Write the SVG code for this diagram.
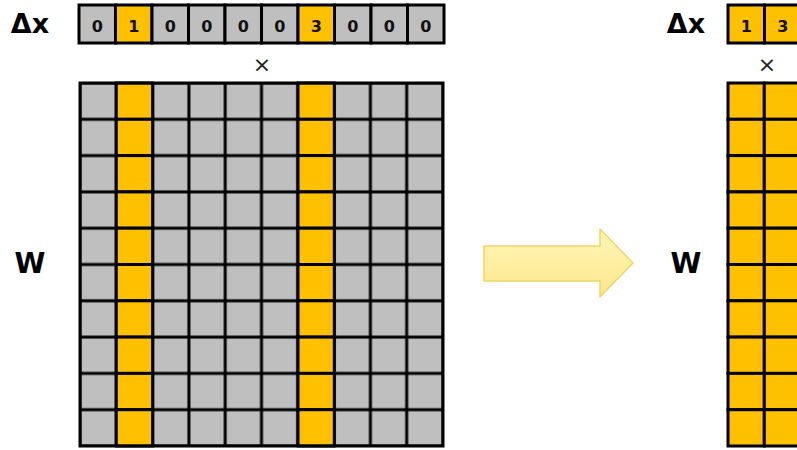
<svg xmlns="http://www.w3.org/2000/svg" width="797" height="450" viewBox="0 0 797 450">
<defs>
<style>
.g{fill:#bfbfbf;stroke:#000;stroke-width:3}
.o{fill:#ffc000;stroke:#000;stroke-width:3}
.d{font-family:"DejaVu Sans",Verdana,sans-serif;font-weight:bold;font-size:16px;text-anchor:middle;fill:#111}
.lbl{font-family:"DejaVu Sans",Verdana,sans-serif;font-weight:bold;text-anchor:middle;fill:#000}
.x{font-family:"DejaVu Sans",sans-serif;font-size:22px;text-anchor:middle;fill:#222}
</style>
<linearGradient id="ag" x1="0" y1="0" x2="0" y2="1">
<stop offset="0" stop-color="#fff6b8"/>
<stop offset="1" stop-color="#fde78a"/>
</linearGradient>
<pattern id="lgrid" x="80" y="83" width="36.3" height="36.3" patternUnits="userSpaceOnUse">
<rect width="36.3" height="36.3" fill="#bfbfbf" stroke="#000" stroke-width="3"/>
</pattern>
</defs>
<rect width="797" height="450" fill="#fff"/>

<g id="dx-left">
<text class="lbl" x="30" y="33" font-size="27">Δx</text>
<rect class="g" x="79" y="5" width="36.5" height="38"/>
<rect class="o" x="115.5" y="5" width="36.5" height="38"/>
<rect class="g" x="152" y="5" width="36.5" height="38"/>
<rect class="g" x="188.5" y="5" width="36.5" height="38"/>
<rect class="g" x="225" y="5" width="36.5" height="38"/>
<rect class="g" x="261.5" y="5" width="36.5" height="38"/>
<rect class="o" x="298" y="5" width="36.5" height="38"/>
<rect class="g" x="334.5" y="5" width="36.5" height="38"/>
<rect class="g" x="371" y="5" width="36.5" height="38"/>
<rect class="g" x="407.5" y="5" width="36.5" height="38"/>
<text class="d" x="97.25" y="31.5">0</text>
<text class="d" x="133.75" y="31.5">1</text>
<text class="d" x="170.25" y="31.5">0</text>
<text class="d" x="206.75" y="31.5">0</text>
<text class="d" x="243.25" y="31.5">0</text>
<text class="d" x="279.75" y="31.5">0</text>
<text class="d" x="316.25" y="31.5">3</text>
<text class="d" x="352.75" y="31.5">0</text>
<text class="d" x="389.25" y="31.5">0</text>
<text class="d" x="425.75" y="31.5">0</text>
</g>
<text class="x" x="262" y="72">×</text>

<g id="w-left">
<text class="lbl" x="30" y="273" font-size="28">W</text>
<rect x="80" y="83" width="363" height="363" fill="url(#lgrid)"/>
<rect class="o" x="116.3" y="83" width="36.3" height="36.3"/>
<rect class="o" x="116.3" y="119.3" width="36.3" height="36.3"/>
<rect class="o" x="116.3" y="155.6" width="36.3" height="36.3"/>
<rect class="o" x="116.3" y="191.9" width="36.3" height="36.3"/>
<rect class="o" x="116.3" y="228.2" width="36.3" height="36.3"/>
<rect class="o" x="116.3" y="264.5" width="36.3" height="36.3"/>
<rect class="o" x="116.3" y="300.8" width="36.3" height="36.3"/>
<rect class="o" x="116.3" y="337.1" width="36.3" height="36.3"/>
<rect class="o" x="116.3" y="373.4" width="36.3" height="36.3"/>
<rect class="o" x="116.3" y="409.7" width="36.3" height="36.3"/>
<rect class="o" x="298" y="83" width="36.3" height="36.3"/>
<rect class="o" x="298" y="119.3" width="36.3" height="36.3"/>
<rect class="o" x="298" y="155.6" width="36.3" height="36.3"/>
<rect class="o" x="298" y="191.9" width="36.3" height="36.3"/>
<rect class="o" x="298" y="228.2" width="36.3" height="36.3"/>
<rect class="o" x="298" y="264.5" width="36.3" height="36.3"/>
<rect class="o" x="298" y="300.8" width="36.3" height="36.3"/>
<rect class="o" x="298" y="337.1" width="36.3" height="36.3"/>
<rect class="o" x="298" y="373.4" width="36.3" height="36.3"/>
<rect class="o" x="298" y="409.7" width="36.3" height="36.3"/>
<rect x="80" y="83" width="363" height="363" fill="none" stroke="#000" stroke-width="3"/>
</g>

<g id="connectors">
<path d="M484,246 L600,246 L600,229 L633,263 L600,297 L600,281 L484,281 Z" fill="url(#ag)" stroke="#f2d46a" stroke-width="1.5" stroke-linejoin="round"/>
</g>

<g id="dx-right">
<text class="lbl" x="686" y="33" font-size="27">Δx</text>
<rect class="o" x="728" y="5" width="36.5" height="38"/>
<rect class="o" x="764.5" y="5" width="36.5" height="38"/>
<text class="d" x="746.25" y="31.5">1</text>
<text class="d" x="782.75" y="31.5">3</text>
</g>
<text class="x" x="767" y="72">×</text>

<g id="w-right">
<text class="lbl" x="686" y="273" font-size="28">W</text>
<rect class="o" x="728" y="83" width="36.3" height="36.3"/>
<rect class="o" x="764.3" y="83" width="36.3" height="36.3"/>
<rect class="o" x="728" y="119.3" width="36.3" height="36.3"/>
<rect class="o" x="764.3" y="119.3" width="36.3" height="36.3"/>
<rect class="o" x="728" y="155.6" width="36.3" height="36.3"/>
<rect class="o" x="764.3" y="155.6" width="36.3" height="36.3"/>
<rect class="o" x="728" y="191.9" width="36.3" height="36.3"/>
<rect class="o" x="764.3" y="191.9" width="36.3" height="36.3"/>
<rect class="o" x="728" y="228.2" width="36.3" height="36.3"/>
<rect class="o" x="764.3" y="228.2" width="36.3" height="36.3"/>
<rect class="o" x="728" y="264.5" width="36.3" height="36.3"/>
<rect class="o" x="764.3" y="264.5" width="36.3" height="36.3"/>
<rect class="o" x="728" y="300.8" width="36.3" height="36.3"/>
<rect class="o" x="764.3" y="300.8" width="36.3" height="36.3"/>
<rect class="o" x="728" y="337.1" width="36.3" height="36.3"/>
<rect class="o" x="764.3" y="337.1" width="36.3" height="36.3"/>
<rect class="o" x="728" y="373.4" width="36.3" height="36.3"/>
<rect class="o" x="764.3" y="373.4" width="36.3" height="36.3"/>
<rect class="o" x="728" y="409.7" width="36.3" height="36.3"/>
<rect class="o" x="764.3" y="409.7" width="36.3" height="36.3"/>
</g>
</svg>
